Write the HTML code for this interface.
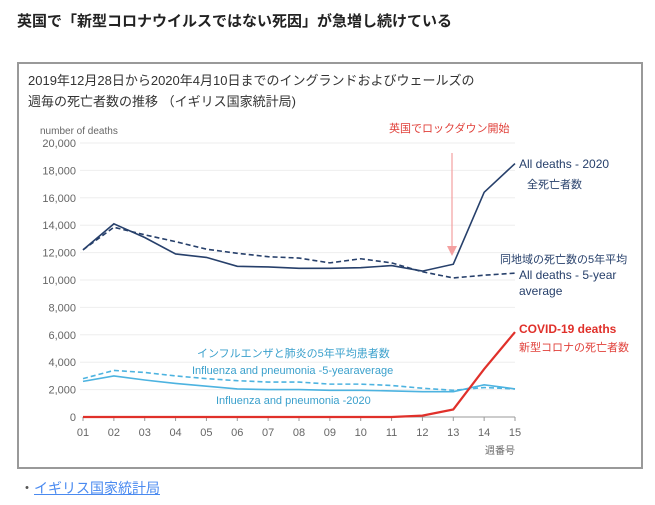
<!DOCTYPE html>
<html><head><meta charset="utf-8">
<style>
body{margin:0;width:655px;height:505px;background:#fff;font-family:"Liberation Sans","Noto Sans CJK JP",sans-serif;position:relative;overflow:hidden}
.t{position:absolute;white-space:nowrap}
</style></head><body>
<div class="t" style="left:17px;top:10px;font-size:15px;font-weight:bold;color:#222">英国で「新型コロナウイルスではない死因」が急増し続けている</div>
<div style="position:absolute;left:17px;top:62px;width:622px;height:403px;border:2px solid #999"></div>
<div class="t" style="left:20px;top:478px;font-size:14px;color:#555">・<span style="color:#4a8af0;text-decoration:underline">イギリス国家統計局</span></div>
<svg id="c" width="655" height="505" style="position:absolute;left:0;top:0"></svg>
<script>
const weeks=["01","02","03","04","05","06","07","08","09","10","11","12","13","14","15"];
const yTicks=[0,2000,4000,6000,8000,10000,12000,14000,16000,18000,20000];
const all2020=[12200,14100,13100,11900,11650,11000,10950,10850,10850,10900,11050,10650,11150,16400,18500];
const allAvg=[12200,13850,13300,12800,12250,11950,11700,11600,11250,11550,11250,10600,10150,10350,10500];
const fluAvg=[2800,3400,3250,3000,2800,2650,2550,2550,2400,2400,2300,2100,1950,2150,2050];
const flu2020=[2600,3000,2700,2450,2250,2050,2000,2000,1950,1950,1900,1850,1850,2350,2050];
const covid=[0,0,0,0,0,0,0,0,0,0,0,100,550,3500,6200];
const svg=document.getElementById('c');const NS='http://www.w3.org/2000/svg';
const X=i=>83+i*(515-83)/14, Y=v=>417-v*(417-143)/20000;
function mk(t,a,p){const e=document.createElementNS(NS,t);for(const k in a)e.setAttribute(k,a[k]);(p||svg).appendChild(e);return e;}
function txt(s,x,y,o){const e=mk('text',Object.assign({x:x,y:y,'font-size':11,fill:'#555','font-family':'"Liberation Sans","Noto Sans CJK JP",sans-serif'},o||{}));e.textContent=s;return e;}
let e;
e=txt('2019年12月28日から2020年4月10日までのイングランドおよびウェールズの',28,85,{'font-size':13,fill:'#333'});

e=txt('週毎の死亡者数の推移 （イギリス国家統計局)',28,106,{'font-size':13,fill:'#333'});

e=txt('number of deaths',40,134,{'font-size':10,fill:'#666'});

yTicks.forEach(v=>{
 e=mk('line',{x1:80,x2:515,y1:Y(v),y2:Y(v),stroke:'#eee'});
 
 e=txt(v.toLocaleString('en-US'),76,Y(v)+4,{'text-anchor':'end','font-size':11,fill:'#666'});
 
});
e=mk('line',{x1:83,x2:515,y1:417,y2:417,stroke:'#999'});

weeks.forEach((w,i)=>{
 e=mk('line',{x1:X(i),x2:X(i),y1:417,y2:421,stroke:'#999'});
 
 e=txt(w,X(i),436,{'text-anchor':'middle','font-size':11,fill:'#666'});
 
});
e=txt('週番号',515,454,{'text-anchor':'end','font-size':10,fill:'#666'});

function line(d,c,w,dash,name){const p=d.map((v,i)=>X(i)+','+Y(v)).join(' ');
 const el=mk('polyline',{points:p,fill:'none',stroke:c,'stroke-width':w,'stroke-dasharray':dash||'none'});
 }
line(fluAvg,'#4db3e0',1.6,'5,3','line-flu-avg');
line(flu2020,'#4db3e0',1.6,null,'line-flu-2020');
line(allAvg,'#27406b',1.6,'5,3','line-all-avg');
line(all2020,'#27406b',1.6,null,'line-all-2020');
line(covid,'#e0302a',2.2,null,'line-covid');
e=mk('line',{x1:452,x2:452,y1:153,y2:248,stroke:'#f4a0a0','stroke-width':1.2});

e=mk('path',{d:'M447,246 L452,256 L457,246 Z',fill:'#f4a0a0',stroke:'none'});

const labels=[
 ['英国でロックダウン開始',389,132,'#e0403a',11,'lockdown-label'],
 ['All deaths - 2020',519,168,'#27406b',12,'label-all-2020'],
 ['全死亡者数',527,188,'#27406b',11,'label-all-2020-jp'],
 ['同地域の死亡数の5年平均',500,263,'#27406b',11,'label-all-avg-jp'],
 ['All deaths - 5-year',519,279,'#27406b',12,'label-all-avg'],
 ['average',519,295,'#27406b',12,'label-all-avg-2'],
 ['新型コロナの死亡者数',519,351,'#e0403a',11,'label-covid-jp'],
 ['インフルエンザと肺炎の5年平均患者数',197,357,'#3aa0cc',11,'label-flu-avg-jp'],
 ['Influenza and pneumonia -5-yearaverage',192,374,'#3aa0cc',11,'label-flu-avg'],
 ['Influenza and pneumonia -2020',216,404,'#3aa0cc',11,'label-flu-2020']];
labels.forEach(l=>{e=txt(l[0],l[1],l[2],{fill:l[3],'font-size':l[4]});
 });
e=txt('COVID-19 deaths',519,333,{fill:'#e0302a','font-size':12,'font-weight':'bold'});

</script>
</body></html>
